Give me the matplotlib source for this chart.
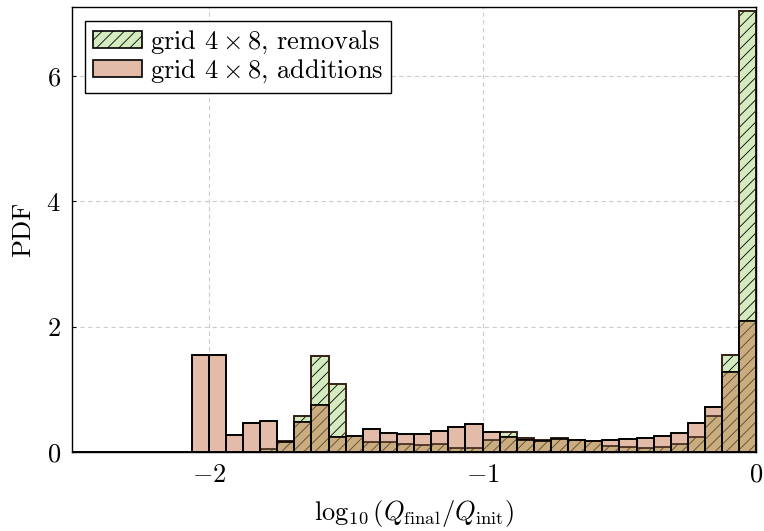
import numpy as np
import matplotlib.pyplot as plt

plt.rcParams['mathtext.fontset'] = 'cm'
plt.rcParams['font.family'] = ['cmr10', 'DejaVu Serif']
plt.rcParams['axes.formatter.use_mathtext'] = True
plt.rcParams['hatch.linewidth'] = 0.6

# histogram bins: 40 bins over [-2.5, 0]
bin_edges = np.linspace(-2.5, 0.0, 41)

# PDF values per bin (first 7 bins empty)
removals = [0, 0, 0, 0, 0, 0, 0,
            0.00, 0.00, 0.00, 0.00, 0.04, 0.17, 0.58, 1.53, 1.09,
            0.26, 0.16, 0.16, 0.13, 0.11, 0.12, 0.06, 0.06, 0.19,
            0.32, 0.22, 0.19, 0.22, 0.19, 0.175, 0.10, 0.07, 0.065,
            0.08, 0.12, 0.24, 0.58, 1.54, 7.05]
additions = [0, 0, 0, 0, 0, 0, 0,
             1.55, 1.54, 0.27, 0.46, 0.49, 0.16, 0.48, 0.75, 0.24,
             0.26, 0.36, 0.30, 0.28, 0.28, 0.33, 0.39, 0.45, 0.31,
             0.23, 0.19, 0.18, 0.21, 0.185, 0.17, 0.19, 0.20, 0.22,
             0.25, 0.30, 0.46, 0.71, 1.28, 2.09]

green = '#d3ebbe'
salmon = '#e2bca9'
tan = '#c9ad7f'

left = bin_edges[:-1]
width = np.diff(bin_edges)
rem = np.array(removals)
add = np.array(additions)
both = np.minimum(rem, add)

fig = plt.figure(figsize=(7.64, 5.31), dpi=100)
ax = fig.add_axes([0.094, 0.149, 0.896, 0.837])

ax.bar(left, rem, width=width, align='edge', color=green, edgecolor='black',
       linewidth=1.2, hatch='///', label=r'grid $4\times8$, removals', zorder=2)
ax.bar(left, add, width=width, align='edge', color=salmon, edgecolor='black',
       linewidth=1.2, label=r'grid $4\times8$, additions', zorder=3)
# overlap region (multiply-blend look)
ax.bar(left, both, width=width, align='edge', color=tan, edgecolor='#5a4530',
       linewidth=0, hatch='///', zorder=4)
ax.bar(left, rem, width=width, align='edge', fill=False, edgecolor='#3d2418',
       linewidth=1.2, zorder=5)
ax.bar(left, add, width=width, align='edge', fill=False, edgecolor='black',
       linewidth=1.2, zorder=6)

ax.set_xlim(-2.5, 0)
ax.set_ylim(0, 7.1)
ax.set_xticks([-2, -1, 0])
ax.set_yticks([0, 2, 4, 6])
ax.grid(True, color='#cccccc', linestyle=(0, (4, 3)), linewidth=0.8, zorder=0)
ax.set_axisbelow(True)
ax.tick_params(direction='in', length=3, labelsize=19, pad=8)
for s in ax.spines.values():
    s.set_linewidth(1.0)
    s.set_zorder(10)

ax.set_xlabel(r'$\log_{10}\left(Q_{\mathrm{final}}/Q_{\mathrm{init}}\right)$', fontsize=19, labelpad=8)
ax.set_ylabel('PDF', fontsize=19, labelpad=8)

leg = ax.legend(loc='upper left', fontsize=19, frameon=True, fancybox=False,
                edgecolor='black', framealpha=1, handlelength=1.85,
                handleheight=0.6, handletextpad=0.3, borderpad=0.3,
                labelspacing=0.05, borderaxespad=0.5)
leg.get_frame().set_linewidth(1.0)

fig.savefig('out.png', dpi=100)
